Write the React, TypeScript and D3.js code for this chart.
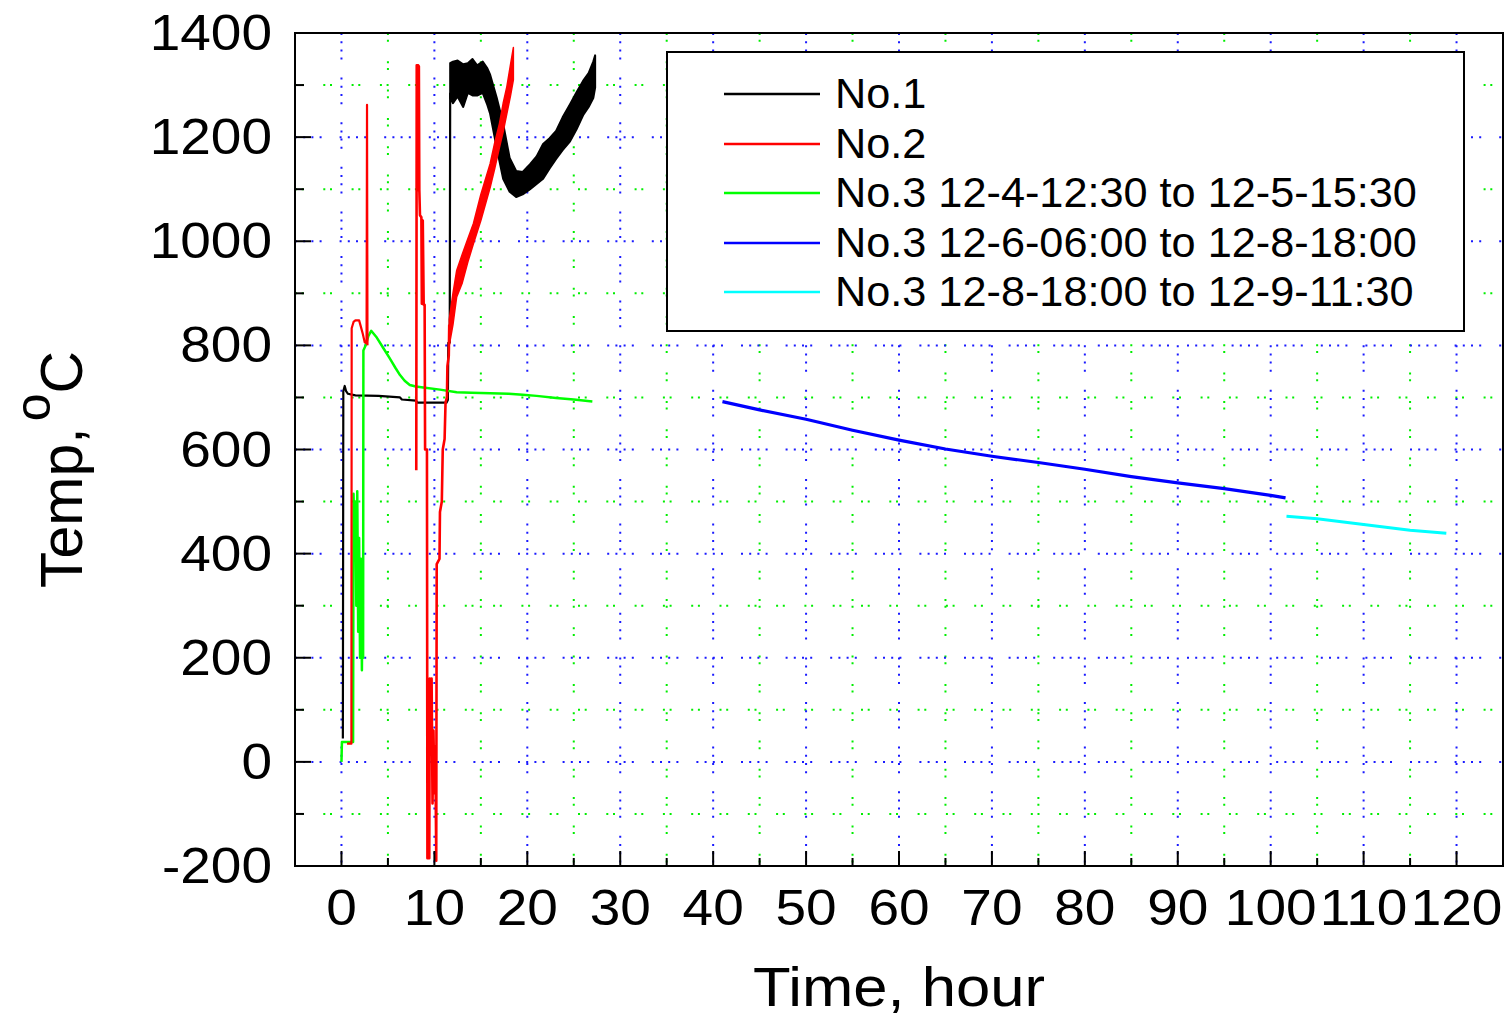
import React from "react";
import * as d3 from "d3";

// ---------- data ----------
const xTickValues = [0, 10, 20, 30, 40, 50, 60, 70, 80, 90, 100, 110, 120];
const xMinorValues = [5, 15, 25, 35, 45, 55, 65, 75, 85, 95, 105, 115];
const yTickValues = [-200, 0, 200, 400, 600, 800, 1000, 1200, 1400];
const yMinorValues = [-100, 100, 300, 500, 700, 900, 1100, 1300];

const legendLabels = [
  "No.1",
  "No.2",
  "No.3 12-4-12:30 to 12-5-15:30",
  "No.3 12-6-06:00 to 12-8-18:00",
  "No.3 12-8-18:00 to 12-9-11:30",
];
const seriesColors = ["#000000", "#ff0000", "#00ff00", "#0000ff", "#00ffff"];

// No.1 (black) – line part
const no1Time = [0.15, 0.2, 0.35, 0.5, 0.7, 1.5, 4.0, 6.3, 6.5, 8.0, 8.2, 11.3, 11.45, 11.5, 11.65, 11.7];
const no1Temp = [45, 712, 722, 712, 707, 704, 703, 700, 696, 694, 690, 690, 695, 805, 805, 1285];
// No.1 noisy band (min / max envelope)
const no1BandTime = [11.7, 12.0, 12.5, 13.1, 13.6, 14.1, 14.6, 15.2, 15.7, 16.0, 16.7, 17.4, 18.1, 18.8, 19.5, 20.3, 21.0, 21.7, 22.4, 23.1, 23.8, 24.6, 25.3, 26.0, 26.6, 27.1, 27.3];
const no1BandLow = [1275, 1265, 1278, 1258, 1285, 1280, 1280, 1285, 1262, 1245, 1180, 1120, 1095, 1085, 1090, 1100, 1110, 1120, 1140, 1158, 1175, 1192, 1215, 1242, 1258, 1275, 1295];
const no1BandHigh = [1342, 1345, 1347, 1340, 1342, 1350, 1338, 1345, 1332, 1320, 1276, 1226, 1160, 1135, 1133, 1148, 1163, 1187, 1198, 1212, 1238, 1263, 1286, 1308, 1323, 1345, 1357];

// No.2 (red)
const no2aTime = [0.6, 1.07, 1.1, 1.3, 1.5, 1.9, 2.1, 2.3, 2.5, 2.7, 2.75, 2.8];
const no2aTemp = [35, 35, 833, 845, 848, 848, 835, 822, 806, 804, 1262, 800];
const no2bTime = [8.05, 8.1, 8.25, 8.28, 8.33, 8.38, 8.45, 8.6, 8.65, 8.75, 8.85, 8.95, 9.0, 9.2, 9.25, 9.45, 9.5, 9.6, 9.7, 9.8, 9.9, 10.0, 10.1, 10.2, 10.25, 10.55, 10.6, 10.8, 10.9, 11.1, 11.2, 11.35, 11.4, 11.55, 11.6];
const no2bTemp = [560, 1338, 1338, 1098, 1336, 1098, 1050, 1046, 880, 1040, 878, 878, 600, 600, -185, -185, 160, 40, 160, -80, 60, -60, 30, -190, 380, 390, 480, 500, 600, 620, 690, 700, 760, 780, 840];
const no2BandTime = [11.6, 12.0, 12.4, 13.0, 13.6, 14.2, 15.0, 16.0, 16.5, 17.0, 17.4, 17.8, 18.2, 18.5];
const no2BandLow = [800, 840, 893, 920, 960, 995, 1040, 1103, 1140, 1180, 1210, 1245, 1280, 1310];
const no2BandHigh = [850, 900, 944, 975, 1005, 1034, 1090, 1149, 1190, 1226, 1265, 1297, 1340, 1372];

// No.3 (three periods)
const no3aTime = [0, 0.05, 1.25, 1.3, 1.4, 1.5, 1.6, 1.7, 1.8, 1.9, 2.0, 2.1, 2.2, 2.25, 2.33, 2.36, 2.6, 2.9, 3.2, 3.8, 4.5, 5.2, 5.8, 6.3, 6.8, 7.35, 8.0, 8.8, 10.6, 12.4, 14, 16, 18, 19.5, 21, 23.1, 25, 27];
const no3aTemp = [0, 38, 38, 515, 420, 500, 300, 520, 250, 430, 200, 390, 176, 300, 200, 790, 800, 818, 828, 815, 795, 775, 757, 743, 732, 724, 721, 719, 715, 710, 709, 708, 707, 705, 703, 699, 696, 692];
const no3bTime = [41, 45, 50, 55, 60, 65, 70, 75, 80, 85, 90, 95, 100, 101.6];
const no3bTemp = [692, 676, 658, 637, 618, 601, 587, 575, 562, 548, 536, 525, 512, 507];
const no3cTime = [101.7, 105, 110, 115, 118.9];
const no3cTemp = [472, 467, 456, 445, 439];

// ---------- layout ----------
const W = 1510;
const H = 1021;
const PL = 295, PR = 1503, PT = 33, PB = 866;
const FONT = "'Liberation Sans', Arial, Helvetica, sans-serif";

const x = d3.scaleLinear().domain([-5, 125]).range([PL, PR]);
const y = d3.scaleLinear().domain([-200, 1400]).range([PB, PT]);

type P = [number, number];
const zip = (a: number[], b: number[]): P[] => a.map((v, i) => [v, b[i]]);
const line = d3.line<P>().x((d) => x(d[0])).y((d) => y(d[1]));
const band = (t: number[], lo: number[], hi: number[]) =>
  d3
    .area<number>()
    .x((i) => x(t[i]))
    .y0((i) => y(lo[i]))
    .y1((i) => y(hi[i]))(d3.range(t.length)) || "";

export default function App() {
  const majorDash = "2 6.2 2 6.2 2 6.2 2 18";
  const minorDash = "2 4.7 2 19.6";
  const legendX = 667, legendY = 52, legendW = 797, legendH = 279;
  const rowY = [94, 144, 193, 243, 292];

  return (
    <svg
      width={W}
      height={H}
      style={{ position: "absolute", left: 0, top: 0, background: "#fff" }}
      fontFamily={FONT}
    >
      <defs>
        <clipPath id="plotClip">
          <rect x={PL} y={PT} width={PR - PL} height={PB - PT} />
        </clipPath>
      </defs>
      <rect x={0} y={0} width={W} height={H} fill="#fff" />

      {/* grid */}
      <g>
        {xMinorValues.map((v) => (
          <line key={"gxm" + v} x1={x(v)} x2={x(v)} y1={PT} y2={PB} stroke="#00ee00" strokeWidth={2} strokeDasharray={minorDash} />
        ))}
        {yMinorValues.map((v) => (
          <line key={"gym" + v} x1={PL} x2={PR} y1={y(v)} y2={y(v)} stroke="#00ee00" strokeWidth={2} strokeDasharray={minorDash} />
        ))}
        {xTickValues.map((v) => (
          <line key={"gx" + v} x1={x(v)} x2={x(v)} y1={PT} y2={PB} stroke="#1a1aff" strokeWidth={2} strokeDasharray={majorDash} />
        ))}
        {yTickValues.filter((v) => v > -200 && v < 1400).map((v) => (
          <line key={"gy" + v} x1={PL} x2={PR} y1={y(v)} y2={y(v)} stroke="#1a1aff" strokeWidth={2} strokeDasharray={majorDash} />
        ))}
      </g>

      {/* data */}
      <g clipPath="url(#plotClip)" fill="none" strokeLinejoin="round">
        <path d={line(zip(no1Time, no1Temp)) || ""} stroke={seriesColors[0]} strokeWidth={2.2} />
        <path d={band(no1BandTime, no1BandLow, no1BandHigh)} fill={seriesColors[0]} stroke={seriesColors[0]} strokeWidth={2} />
        <path d={line(zip(no3aTime, no3aTemp)) || ""} stroke={seriesColors[2]} strokeWidth={2.5} />
        <path d={line(zip(no2aTime, no2aTemp)) || ""} stroke={seriesColors[1]} strokeWidth={2.2} />
        <path d={line(zip(no2bTime, no2bTemp)) || ""} stroke={seriesColors[1]} strokeWidth={2.6} />
        <path d={band(no2BandTime, no2BandLow, no2BandHigh)} fill={seriesColors[1]} stroke={seriesColors[1]} strokeWidth={1.5} />
        <path d={line(zip(no3bTime, no3bTemp)) || ""} stroke={seriesColors[3]} strokeWidth={3.2} />
        <path d={line(zip(no3cTime, no3cTemp)) || ""} stroke={seriesColors[4]} strokeWidth={3} />
      </g>

      {/* legend */}
      <g>
        <rect x={legendX} y={legendY} width={legendW} height={legendH} fill="#fff" stroke="#000" strokeWidth={2} />
        {legendLabels.map((lab, i) => (
          <g key={lab}>
            <line x1={724} x2={820} y1={rowY[i]} y2={rowY[i]} stroke={seriesColors[i]} strokeWidth={2.5} />
            <text transform={`translate(835,${rowY[i] + 14}) scale(1.03,1)`} fontSize={42} fill="#000">
              {lab}
            </text>
          </g>
        ))}
      </g>

      {/* frame & ticks */}
      <rect x={PL} y={PT} width={PR - PL} height={PB - PT} fill="none" stroke="#000" strokeWidth={2} />
      {xTickValues.map((v) => (
        <line key={"tx" + v} x1={x(v)} x2={x(v)} y1={PB} y2={PB - 15} stroke="#000" strokeWidth={2} />
      ))}
      {xMinorValues.map((v) => (
        <line key={"txm" + v} x1={x(v)} x2={x(v)} y1={PB} y2={PB - 8} stroke="#000" strokeWidth={2} />
      ))}
      {yTickValues.map((v) => (
        <line key={"ty" + v} x1={PL} x2={PL + 16} y1={y(v)} y2={y(v)} stroke="#000" strokeWidth={2} />
      ))}
      {yMinorValues.map((v) => (
        <line key={"tym" + v} x1={PL} x2={PL + 9} y1={y(v)} y2={y(v)} stroke="#000" strokeWidth={2} />
      ))}

      {/* tick labels */}
      {xTickValues.map((v) => (
        <text key={"lx" + v} transform={`translate(${x(v)},925) scale(1.1,1)`} fontSize={50} textAnchor="middle" fill="#000">
          {v}
        </text>
      ))}
      {yTickValues.map((v) => (
        <text key={"ly" + v} transform={`translate(272,${y(v) + 17}) scale(1.1,1)`} fontSize={50} textAnchor="end" fill="#000">
          {v}
        </text>
      ))}

      {/* axis titles */}
      <text transform={`translate(${(PL + PR) / 2},1006) scale(1.1,1)`} fontSize={56} textAnchor="middle" fill="#000">
        Time, hour
      </text>
      <text transform="rotate(-90)" x={-588} y={82} fontSize={59} fill="#000">
        Temp,
        <tspan dx={6} dy={-32} fontSize={50}>o</tspan>
        <tspan dy={32} fontSize={59}>C</tspan>
      </text>
    </svg>
  );
}
